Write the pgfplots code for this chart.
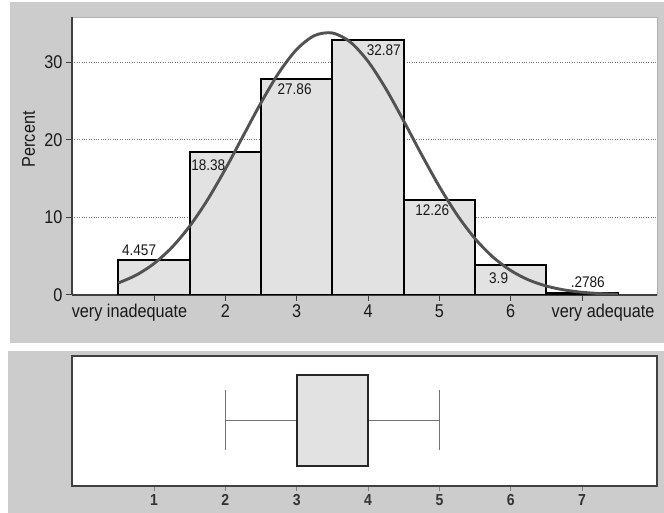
\documentclass[border=0pt]{standalone}
\usepackage{fontspec}
\setmainfont{Liberation Sans}[FakeStretch=0.88]
\usepackage{pgfplots}
\pgfplotsset{compat=1.18}
\usepgfplotslibrary{statistics}

\definecolor{panelgray}{RGB}{204,204,204}
\definecolor{barfill}{RGB}{226,226,226}
\definecolor{curvecol}{RGB}{82,82,82}
\definecolor{txt}{RGB}{25,25,25}

\begin{document}
\begin{tikzpicture}[x=1bp,y=1bp]
\fill[white] (0,0) rectangle (664,513);
\fill[panelgray] (10,170) rectangle (664,511);
\fill[panelgray] (8,0) rectangle (664,162);

% histogram with normal curve
\begin{axis}[
  at={(72bp,218bp)}, anchor=south west,
  scale only axis, width=585bp, height=278bp,
  xmin=-0.15, xmax=8.05, ymin=0, ymax=35.8,
  axis background/.style={fill=white, draw=gray!60, line width=0.5pt},
  axis x line*=bottom, axis y line*=left,
  axis line style={black!75, line width=1.1pt},
  tick align=outside, major tick length=6bp,
  tick style={black!75, line width=1pt},
  xtick={1,...,7},
  xticklabels={very inadequate\hspace*{49bp},2,3,4,5,6,\hspace*{42bp}very adequate},
  ytick={0,10,20,30},
  ymajorgrids, grid style={dotted, black!55, line width=0.8pt},
  /pgf/number format/assume math mode=true,
  tick label style={font=\fontsize{18.5}{18.5}\selectfont, text=txt},
  ylabel={Percent},
  ylabel style={at={(axis description cs:-0.074,0.56)}, anchor=center,
    font=\fontsize{18.5}{18.5}\selectfont, text=txt},
]
\addplot[ybar, bar width=1, bar shift=0pt, fill=barfill, draw=black, line width=1.9pt]
  coordinates {(1,4.457) (2,18.38) (3,27.86) (4,32.87) (5,12.26) (6,3.9) (7,0.2786)};

\addplot[smooth, curvecol, line width=2.9pt] coordinates {
  (0.5,1.55) (0.75,2.56) (1.0,4.05) (1.25,6.13) (1.5,8.87) (1.75,12.26)
  (2.0,16.22) (2.25,20.50) (2.5,24.77) (2.75,28.63) (3.0,31.63) (3.25,33.41)
  (3.5,33.74) (3.75,32.58) (4.0,30.08) (4.25,26.55) (4.5,22.40) (4.75,18.08)
  (5.0,13.95) (5.25,10.29) (5.5,7.25) (5.75,4.89) (6.0,3.15) (6.25,1.94)
  (6.5,1.15) (6.75,0.65) (7.0,0.35) (7.25,0.18) (7.5,0.09)};

\addplot[only marks, mark=none, nodes near coords, point meta=explicit symbolic,
  every node near coord/.append style={anchor=center, inner sep=0pt,
    font=\fontsize{15.5}{15.5}\selectfont, text=txt}]
  coordinates {(0.79,5.8)[4.457] (1.76,16.7)[18.38] (2.97,26.5)[27.86]
    (4.22,31.5)[32.87] (4.90,10.9)[12.26] (5.83,2.2)[3.9] (7.08,1.7)[.2786]};
\end{axis}

% box plot
\begin{axis}[
  at={(72bp,27bp)}, anchor=south west,
  scale only axis, width=585bp, height=130bp,
  xmin=-0.15, xmax=8.05, ymin=0, ymax=1,
  axis background/.style={fill=white},
  axis line style={black!75, line width=1.1pt},
  xtick={1,...,7}, ytick=\empty, xtick pos=bottom,
  tick align=outside, major tick length=5bp,
  tick style={black!50, line width=1pt},
  /pgf/number format/assume math mode=true,
  tick label style={font=\bfseries\fontsize{16}{16}\selectfont, text=black!80},
]
\addplot[boxplot prepared={lower whisker=2, lower quartile=3, median=3,
    upper quartile=4, upper whisker=5, draw position=0.505,
    box extend=0.7, whisker extend=0.46, draw direction=x},
  boxplot/every box/.style={draw=black!85, line width=1.6pt, fill=barfill},
  boxplot/every whisker/.style={draw=black!55, line width=1pt},
  boxplot/every median/.style={draw=black!85, line width=1.6pt}]
  coordinates {};
\end{axis}
\pgfresetboundingbox
\path[use as bounding box] (0,0) rectangle (664,513);
\end{tikzpicture}
\end{document}
